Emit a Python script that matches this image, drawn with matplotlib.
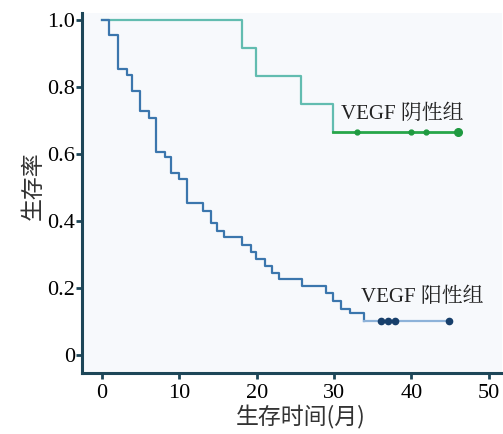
import matplotlib.pyplot as plt

# Courbes de survie
neg_t = [0, 18.1, 19.9, 25.7, 29.9, 46.0]
neg_s = [1.0, 0.917, 0.833, 0.75, 0.667, 0.667]
neg_cens = [33.0, 39.9, 41.9, 46.0]

pos_t = [0, 0.95, 2.1, 3.2, 3.9, 4.9, 6.0, 7.0, 8.1, 8.9, 10.0, 11.0, 13.1, 14.1,
         14.9, 15.8, 18.1, 19.2, 19.9, 21.0, 22.0, 22.9, 25.9, 29.0, 29.8, 30.9,
         32.0, 33.9, 44.8]
pos_s = [1.0, 0.957, 0.853, 0.835, 0.789, 0.73, 0.707, 0.605, 0.59, 0.543, 0.525,
         0.455, 0.43, 0.394, 0.371, 0.352, 0.33, 0.307, 0.286, 0.266, 0.246, 0.227,
         0.207, 0.184, 0.16, 0.138, 0.125, 0.102, 0.102]
pos_cens = [36.0, 37.0, 37.9, 44.8]

xticks = [0, 10, 20, 30, 40, 50]
yticks = [0, 0.2, 0.4, 0.6, 0.8, 1.0]
ytick_labels = ['0', '0.2', '0.4', '0.6', '0.8', '1.0']

serif = ['Liberation Serif', 'Noto Serif CJK SC', 'Noto Sans CJK SC']
cjk = ['Noto Sans CJK SC']
axis_col = '#1d4658'

fig = plt.figure(figsize=(5.03, 4.34), dpi=100)
ax = fig.add_axes([0.163, 0.141, 0.835, 0.828])
ax.set_facecolor('#f7f9fc')

# VEGF négatif : partie haute turquoise, partie basse verte
i = neg_t.index(29.9)
ax.step(neg_t[:i + 1], neg_s[:i + 1], where='post', color='#62bcb0', lw=1.6)
ax.step(neg_t[i:], neg_s[i:], where='post', color='#27a649', lw=2.0)
ax.plot(neg_cens, [neg_s[-1]] * len(neg_cens), 'o', color='#1f9a40', ms=3.5)
ax.plot(neg_cens[-1], neg_s[-1], 'o', color='#1f9a40', ms=5.5)

# VEGF positif
j = pos_t.index(33.9)
ax.step(pos_t[:j + 1], pos_s[:j + 1], where='post', color='#3b76ad', lw=1.6)
ax.step(pos_t[j:], pos_s[j:], where='post', color='#8db2d9', lw=1.6)
ax.plot(pos_cens, [pos_s[-1]] * len(pos_cens), 'o', color='#173f6b', ms=4.5)

ax.text(30.9, 0.72, 'VEGF 阴性组', family=serif, fontsize=15, va='center', color='#222222')
ax.text(33.5, 0.173, 'VEGF 阳性组', family=serif, fontsize=15, va='center', color='#222222')

ax.set_xlim(-2.6, 51.7)
ax.set_ylim(-0.053, 1.02)
ax.set_xticks(xticks)
ax.set_xticklabels([str(v) for v in xticks], family=serif, fontsize=16)
ax.set_yticks(yticks)
ax.set_yticklabels(ytick_labels, family=serif, fontsize=16)
ax.tick_params(direction='out', length=4, width=2, color=axis_col)
ax.tick_params(axis='x', pad=4)
ax.tick_params(axis='y', pad=1)

for side in ['top', 'right']:
    ax.spines[side].set_visible(False)
for side in ['left', 'bottom']:
    ax.spines[side].set_color(axis_col)
    ax.spines[side].set_linewidth(2.2)

ax.set_xlabel('生存时间(月)', family=cjk, fontsize=16.5, color='#333333', weight='light')
ax.set_ylabel('生存率', family=cjk, fontsize=16.5, color='#333333', weight='light')
ax.xaxis.set_label_coords(0.52, -0.09)
ax.yaxis.set_label_coords(-0.088, 0.52)

plt.savefig('out.png', dpi=100)
